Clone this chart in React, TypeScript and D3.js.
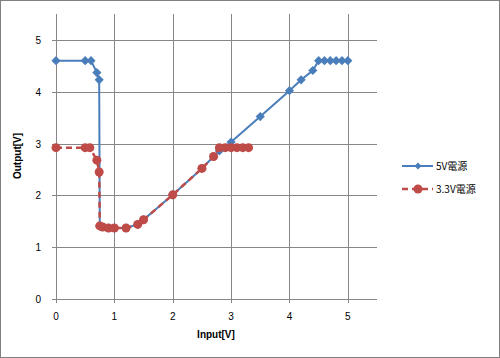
import React, { useEffect, useRef } from 'react';
import * as d3 from 'd3';

// 5V supply
const inV5 = [0, 0.5, 0.6, 0.7, 0.74, 0.75, 0.8, 0.9, 1.0, 1.2, 1.4, 1.5, 2.0, 2.5, 2.7, 2.8, 3.0, 3.5, 4.0, 4.2, 4.4, 4.5, 4.6, 4.7, 4.8, 4.9, 5.0];
const out5 = [4.6, 4.6, 4.6, 4.37, 4.23, 1.41, 1.39, 1.37, 1.37, 1.37, 1.44, 1.53, 2.01, 2.52, 2.75, 2.86, 3.03, 3.52, 4.02, 4.23, 4.41, 4.6, 4.6, 4.6, 4.6, 4.6, 4.6];

// 3.3V supply
const inV33 = [0, 0.5, 0.58, 0.7, 0.74, 0.75, 0.8, 0.9, 1.0, 1.2, 1.4, 1.5, 2.0, 2.5, 2.7, 2.8, 2.9, 3.0, 3.1, 3.2, 3.3];
const out33 = [2.92, 2.92, 2.92, 2.68, 2.45, 1.41, 1.39, 1.37, 1.37, 1.37, 1.44, 1.53, 2.01, 2.52, 2.75, 2.92, 2.92, 2.92, 2.92, 2.92, 2.92];

const xTicks = [0, 1, 2, 3, 4, 5];
const yTicks = [0, 1, 2, 3, 4, 5];
const seriesNames = ['5V電源', '3.3V電源'];

const W = 500, H = 358;

const App = () => {
  const svgRef = useRef<SVGSVGElement>(null);

  useEffect(() => {
    const svg = d3.select(svgRef.current);
    svg.selectAll('*').remove();

    const x = d3.scaleLinear().domain([0, 5.5]).range([56, 377]);
    const y = d3.scaleLinear().domain([0, 5.5]).range([299, 14]);
    const font = '"Liberation Sans", Arial, sans-serif';
    const grid = '#878787';

    svg.append('rect').attr('x', 0.5).attr('y', 0.5).attr('width', W - 1).attr('height', H - 1)
      .attr('fill', '#fff').attr('stroke', '#808080');

    const g = svg.append('g');

    // gridlines
    g.selectAll('.hg').data(yTicks).join('line')
      .attr('x1', x(0) - 4).attr('x2', x(5.5))
      .attr('y1', d => Math.round(y(d)) + 0.5).attr('y2', d => Math.round(y(d)) + 0.5)
      .attr('stroke', grid).attr('stroke-width', 1);
    g.selectAll('.vg').data(xTicks).join('line')
      .attr('y1', y(5.5)).attr('y2', y(0) + 4)
      .attr('x1', d => Math.round(x(d)) + 0.5).attr('x2', d => Math.round(x(d)) + 0.5)
      .attr('stroke', grid).attr('stroke-width', 1);

    g.selectAll('.yl').data(yTicks).join('text')
      .attr('x', 41).attr('y', d => y(d) + 4)
      .attr('text-anchor', 'end').attr('font-family', font).attr('font-size', 10).attr('fill', '#000')
      .text(d => d);
    g.selectAll('.xl').data(xTicks).join('text')
      .attr('x', d => x(d)).attr('y', 320)
      .attr('text-anchor', 'middle').attr('font-family', font).attr('font-size', 10).attr('fill', '#000')
      .text(d => d);

    svg.append('text').attr('x', 216).attr('y', 338).attr('text-anchor', 'middle')
      .attr('font-family', font).attr('font-size', 10).attr('font-weight', 'bold').text('Input[V]');
    svg.append('text').attr('transform', 'translate(21,156) rotate(-90)').attr('text-anchor', 'middle')
      .attr('font-family', font).attr('font-size', 10).attr('font-weight', 'bold').text('Output[V]');

    const blue = '#4A7EBB';
    const red = '#BE4B48';
    const line = d3.line<[number, number]>().x(d => x(d[0])).y(d => y(d[1]));
    const diamond = d3.symbol().type(d3.symbolSquare).size(42);

    const d5: [number, number][] = inV5.map((v, i) => [v, out5[i]]);
    const d33: [number, number][] = inV33.map((v, i) => [v, out33[i]]);

    g.append('path').datum(d5).attr('d', line).attr('fill', 'none').attr('stroke', blue).attr('stroke-width', 2);
    g.selectAll('.m5').data(d5).join('path')
      .attr('d', diamond).attr('transform', d => `translate(${x(d[0])},${y(d[1])}) rotate(45)`).attr('fill', blue);

    g.append('path').datum(d33).attr('d', line).attr('fill', 'none').attr('stroke', red)
      .attr('stroke-width', 2.5).attr('stroke-dasharray', '6,4');
    g.selectAll('.m33').data(d33).join('circle')
      .attr('cx', d => x(d[0])).attr('cy', d => y(d[1])).attr('r', 4.5).attr('fill', red);

    // legend
    const lg = svg.append('g');
    const rows = [
      { name: seriesNames[0], color: blue, yy: 166, dash: null },
      { name: seriesNames[1], color: red, yy: 189, dash: '6,4' },
    ];
    rows.forEach((r, i) => {
      lg.append('line').attr('x1', 402).attr('x2', 433).attr('y1', r.yy).attr('y2', r.yy)
        .attr('stroke', r.color).attr('stroke-width', i === 0 ? 2 : 2.5)
        .attr('stroke-dasharray', r.dash);
      if (i === 0) {
        lg.append('path').attr('d', d3.symbol().type(d3.symbolSquare).size(24))
          .attr('transform', `translate(418,${r.yy}) rotate(45)`).attr('fill', r.color);
      } else {
        lg.append('circle').attr('cx', 418).attr('cy', r.yy).attr('r', 4.5).attr('fill', r.color);
      }
      lg.append('text').attr('x', 436).attr('y', r.yy + 4)
        .attr('font-family', '"Noto Sans CJK JP", "Liberation Sans", sans-serif').attr('font-size', 10)
        .text(r.name);
    });
  }, []);

  return (
    <svg ref={svgRef} width={W} height={H} style={{ position: 'absolute', left: 0, top: 0 }}></svg>
  );
};

export default App;
